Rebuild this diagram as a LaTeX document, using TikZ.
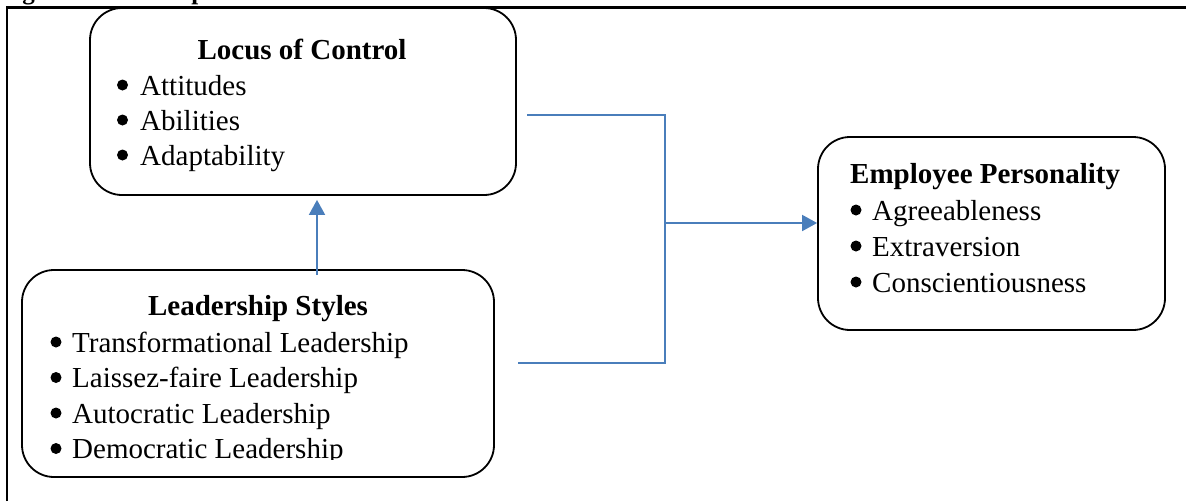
\documentclass[tikz,border=0pt]{standalone}
\usepackage{fontspec}
\setmainfont{Liberation Serif}
\usetikzlibrary{arrows.meta}
\definecolor{conncol}{HTML}{4A7EBB}
\begin{document}
\begin{tikzpicture}[x=1pt,y=-1pt,
  box/.style={draw=black, line width=1.8pt, rounded corners=32pt, inner sep=0pt},
  item/.style={anchor=base west, inner sep=0pt, font=\fontsize{29}{35}\selectfont},
  ttl/.style={anchor=base, inner sep=0pt, font=\fontsize{29}{35}\selectfont\bfseries},
  ttlw/.style={anchor=base west, inner sep=0pt, font=\fontsize{29}{35}\selectfont\bfseries},
  dot/.style={circle, fill=black, inner sep=0pt, minimum size=11pt},
  conn/.style={draw=conncol, line width=1.8pt},
  arr/.style={conn, -{Triangle[length=15pt,width=16pt]}}
]
\useasboundingbox (0,0) rectangle (1186,501);
\begin{scope}
\clip (0,0) rectangle (1186,501);
\node[anchor=base west, inner sep=0pt, font=\fontsize{25}{30}\selectfont\bfseries] (cap) at (0,-1) {Figure 2.1: Conceptual Framework};
\end{scope}
% frame
\draw[line width=2.6pt] (7,501) -- (7,7.5) -- (1186,7.5);

% boxes
\node[box, minimum width=426pt, minimum height=187pt] (loc) at (303,101.5) {};
\node[box, minimum width=472pt, minimum height=207pt] (lead) at (258,373.5) {};
\node[box, minimum width=347pt, minimum height=193pt] (emp) at (991.5,233.5) {};

% Locus of Control
\node[ttl] (locT) at (302,59) {Locus of Control};
\node[dot] (ld1) at (122.5,85) {};
\node[item] (l1) at (140,95) {Attitudes};
\node[dot] (ld2) at (122.5,120) {};
\node[item] (l2) at (140,130) {Abilities};
\node[dot] (ld3) at (122.5,155) {};
\node[item] (l3) at (140,165) {Adaptability};

% Leadership Styles
\node[ttl] (leadT) at (258,315) {Leadership Styles};
\begin{scope}
\clip (22,270) rectangle (494,459);
\node[dot] (sd1) at (56,342) {};
\node[item] (s1) at (72,352) {Transformational Leadership};
\node[dot] (sd2) at (56,377.5) {};
\node[item] (s2) at (72,387.5) {Laissez-faire Leadership};
\node[dot] (sd3) at (56,413) {};
\node[item] (s3) at (72,423) {Autocratic Leadership};
\node[dot] (sd4) at (56,448.5) {};
\node[item] (s4) at (72,458.5) {Democratic Leadership};
\end{scope}

% Employee Personality
\node[ttlw] (empT) at (850,183) {Employee Personality};
\node[dot] (ed1) at (856,210) {};
\node[item] (e1) at (872,220) {Agreeableness};
\node[dot] (ed2) at (856,246) {};
\node[item] (e2) at (872,256) {Extraversion};
\node[dot] (ed3) at (856,282) {};
\node[item] (e3) at (872,292) {Conscientiousness};

% connectors
\coordinate (a1) at (527,115);
\coordinate (j) at (665,223);
\coordinate (b1) at (518,363);
\coordinate (v0) at (317,275);
\draw[conn] (a1) -| (j) |- (b1);
\draw[arr] (j) -- (j -| emp.west);
\draw[arr, shorten >=4pt] (v0) -- (v0 |- loc.south);
\end{tikzpicture}
\end{document}
